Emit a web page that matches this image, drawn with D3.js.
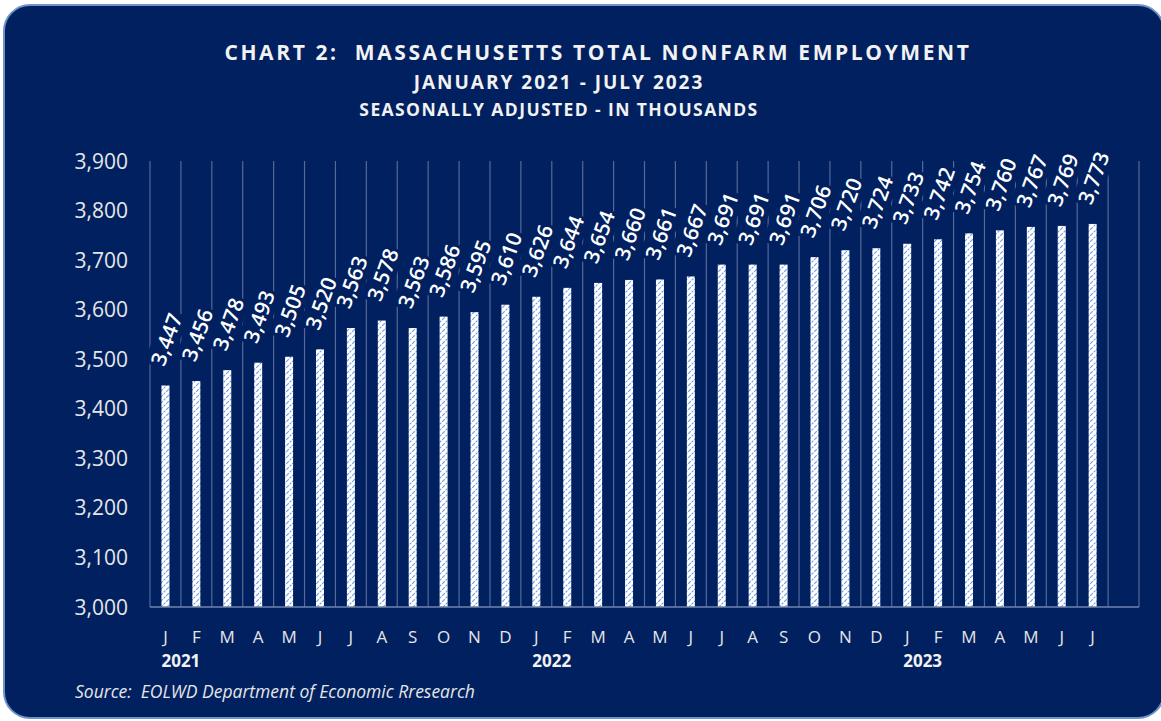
<!DOCTYPE html>
<html>
<head>
<meta charset="utf-8">
<script src="https://cdn.jsdelivr.net/npm/d3@7"></script>
<style>
  body { margin: 0; background: #ffffff; }
  svg { display: block; }
  text { font-family: "Open Sans", sans-serif; }
</style>
</head>
<body>
<div id="chart"></div>
<script>
// data
var months = ["J","F","M","A","M","J","J","A","S","O","N","D",
              "J","F","M","A","M","J","J","A","S","O","N","D",
              "J","F","M","A","M","J","J"];
var employment = [3447, 3456, 3478, 3493, 3505, 3520, 3563, 3578, 3563, 3586, 3595, 3610,
                  3626, 3644, 3654, 3660, 3661, 3667, 3691, 3691, 3691, 3706, 3720, 3724,
                  3733, 3742, 3754, 3760, 3767, 3769, 3773];
var years = ["2021", "2022", "2023"];
var yearStart = [0, 12, 24];   // index of January for each year
var yTicks = [3000, 3100, 3200, 3300, 3400, 3500, 3600, 3700, 3800, 3900];

var W = 1161, H = 721;
var BG = "#002060";
var plot = { left: 150, right: 1139, top: 161, bottom: 607 };

var svg = d3.select("#chart").append("svg")
    .attr("width", W)
    .attr("height", H);

// bar pattern: white with light blue diagonal stripes
var defs = svg.append("defs");
var pat = defs.append("pattern")
    .attr("id", "stripes")
    .attr("patternUnits", "userSpaceOnUse")
    .attr("width", 6)
    .attr("height", 6);
pat.append("rect").attr("width", 6).attr("height", 6).attr("fill", "#ffffff");
pat.append("path")
    .attr("d", "M-1,7 L7,-1 M-1,1 L1,-1 M5,7 L7,5")
    .attr("stroke", "#6f9be0")
    .attr("stroke-width", 1.1)
    .attr("stroke-dasharray", "2.5,1.2");

// panel background
svg.append("rect")
    .attr("x", 4).attr("y", 5)
    .attr("width", 1160).attr("height", 713)
    .attr("rx", 26).attr("ry", 26)
    .attr("fill", BG)
    .attr("stroke", "#6f93c8")
    .attr("stroke-width", 2);

// titles
var titles = [
  { t: "CHART 2:  MASSACHUSETTS TOTAL NONFARM EMPLOYMENT", x: 598, y: 60, s: 21, ls: 2.6 },
  { t: "JANUARY 2021 - JULY 2023", x: 559, y: 89, s: 19, ls: 2.0 },
  { t: "SEASONALLY ADJUSTED - IN THOUSANDS", x: 559, y: 116, s: 17.5, ls: 1.4 }
];
svg.selectAll(".title").data(titles).enter().append("text")
    .attr("class", "title")
    .attr("x", function(d) { return d.x; })
    .attr("y", function(d) { return d.y; })
    .attr("text-anchor", "middle")
    .attr("fill", "#f2f2f2")
    .style("font-weight", "bold")
    .style("font-size", function(d) { return d.s + "px"; })
    .style("letter-spacing", function(d) { return d.ls + "px"; })
    .style("white-space", "pre")
    .text(function(d) { return d.t; });

// scales
var slots = d3.range(months.length + 1);   // one empty slot at the end
var x = d3.scaleBand()
    .domain(slots)
    .range([plot.left, plot.right])
    .padding(0);

var y = d3.scaleLinear()
    .domain([3000, 3900])
    .range([plot.bottom, plot.top]);

// vertical gridlines at category boundaries
var grid = svg.append("g");
grid.selectAll("line").data(slots.concat([slots.length])).enter().append("line")
    .attr("x1", function(d) { return d < slots.length ? x(d) : plot.right; })
    .attr("x2", function(d) { return d < slots.length ? x(d) : plot.right; })
    .attr("y1", plot.top)
    .attr("y2", plot.bottom)
    .attr("stroke", "#55699a")
    .attr("stroke-width", 1.2);

// y axis labels
svg.append("g").selectAll("text").data(yTicks).enter().append("text")
    .attr("x", 128)
    .attr("y", function(d) { return y(d); })
    .attr("dy", "0.36em")
    .attr("text-anchor", "end")
    .attr("fill", "#e6e6e6")
    .style("font-size", "21px")
    .text(function(d) { return d3.format(",")(d); });

// bars
var bw = 8;
svg.append("g").selectAll("rect").data(employment).enter().append("rect")
    .attr("x", function(d, i) { return x(i) + x.bandwidth() / 2 - bw / 2; })
    .attr("y", function(d) { return y(d); })
    .attr("width", bw)
    .attr("height", function(d) { return y(3000) - y(d); })
    .attr("fill", "url(#stripes)");

// x axis baseline
svg.append("line")
    .attr("x1", plot.left).attr("x2", plot.right)
    .attr("y1", plot.bottom).attr("y2", plot.bottom)
    .attr("stroke", "#7083ad")
    .attr("stroke-width", 1.5);

// data labels, rotated, with background boxes that hide the gridlines
var labels = svg.append("g").selectAll("g").data(employment).enter().append("g")
    .attr("transform", function(d, i) {
        return "translate(" + (x(i) + x.bandwidth() / 2 + 1) + "," + (y(d) - 46) + ") rotate(-70)";
    });
labels.append("rect")
    .attr("fill", BG);
labels.append("text")
    .attr("text-anchor", "middle")
    .attr("dy", "0.36em")
    .attr("fill", "#ffffff")
    .style("font-size", "21px")
    .style("font-weight", "600")
    .text(function(d) { return d3.format(",")(d); });
labels.each(function() {
    var g = d3.select(this);
    var w = g.select("text").node().getComputedTextLength();
    g.select("rect")
        .attr("x", -w / 2 - 2).attr("y", -13)
        .attr("width", w + 4).attr("height", 26);
});

// month labels
svg.append("g").selectAll("text").data(months).enter().append("text")
    .attr("x", function(d, i) { return x(i) + x.bandwidth() / 2; })
    .attr("y", 643)
    .attr("text-anchor", "middle")
    .attr("fill", "#e6e6e6")
    .style("font-size", "17px")
    .text(function(d) { return d; });

// year labels, centred between J and F of each year
svg.append("g").selectAll("text").data(years).enter().append("text")
    .attr("x", function(d, i) { return x(yearStart[i]) + x.bandwidth(); })
    .attr("y", 667)
    .attr("text-anchor", "middle")
    .attr("fill", "#f2f2f2")
    .style("font-weight", "bold")
    .style("font-size", "17px")
    .text(function(d) { return d; });

// source
svg.append("text")
    .attr("x", 75)
    .attr("y", 698)
    .attr("fill", "#e6e6e6")
    .style("font-style", "italic")
    .style("font-size", "17.5px")
    .style("white-space", "pre")
    .text("Source:  EOLWD Department of Economic Rresearch");
</script>
</body>
</html>
